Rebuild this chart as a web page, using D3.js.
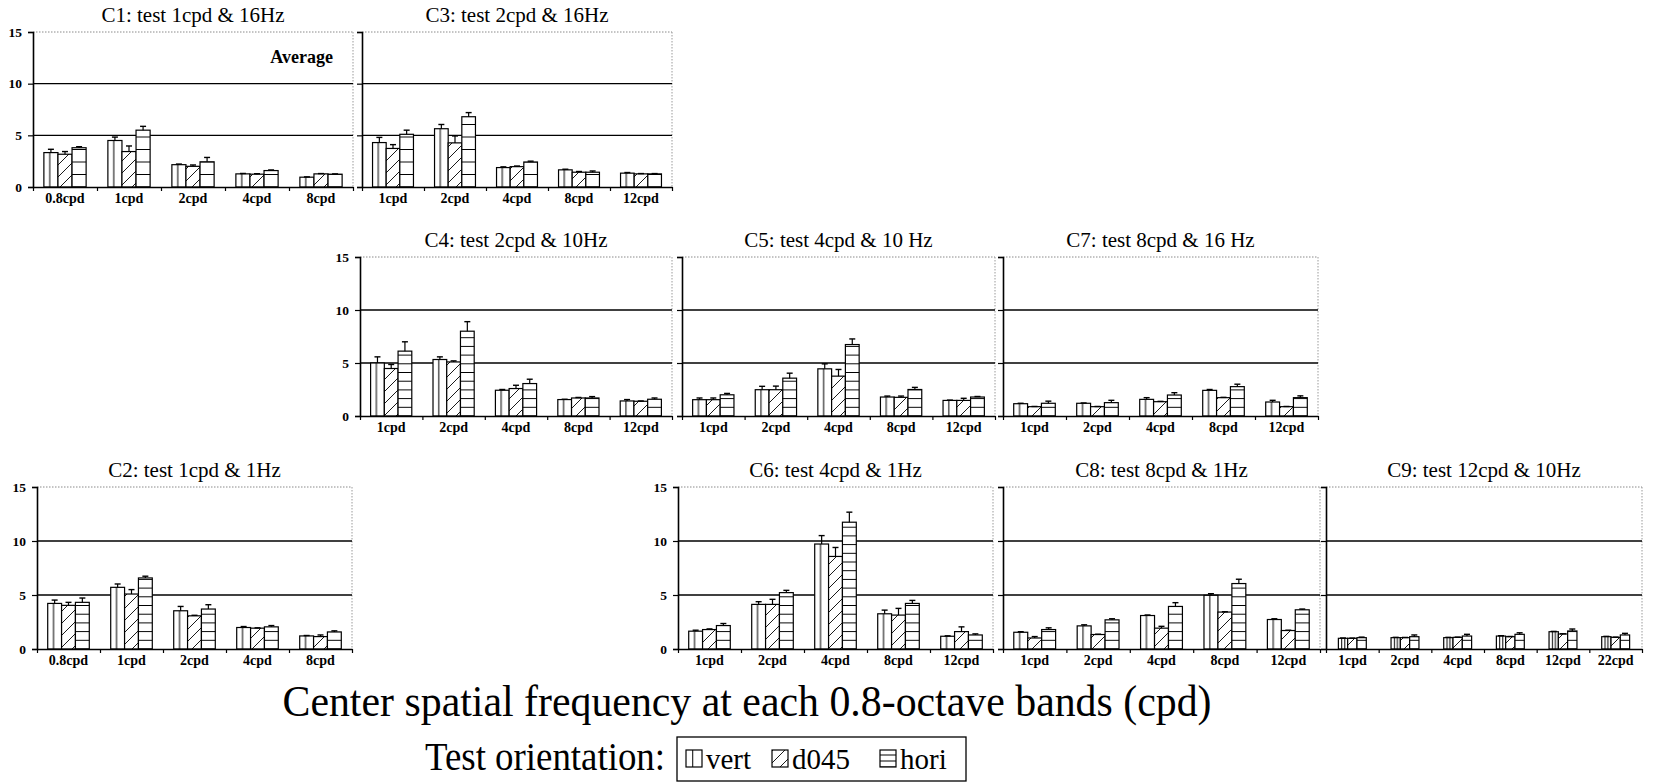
<!DOCTYPE html>
<html><head><meta charset="utf-8">
<script src="https://cdn.jsdelivr.net/npm/d3@7"></script>
<style>
body{margin:0;background:#fff;}
svg{display:block;background:#fff;}
text{font-family:"Liberation Serif","Times New Roman",serif;fill:#000;}
</style></head><body>
<svg id="chart" width="1655" height="784"></svg>
<script>
// ---------------- data ----------------
const seriesNames = ["vert", "d045", "hori"];
const yTicks = [0, 5, 10, 15];
const catsLow = ["0.8cpd", "1cpd", "2cpd", "4cpd", "8cpd"];
const catsMid = ["1cpd", "2cpd", "4cpd", "8cpd", "12cpd"];
const catsHigh = ["1cpd", "2cpd", "4cpd", "8cpd", "12cpd", "22cpd"];

// means per series: [vert, d045, hori]; errs = upward error bar length
const c1Means = [[3.33, 4.5, 2.16, 1.27, 0.95], [3.17, 3.43, 2.0, 1.24, 1.27], [3.8, 5.5, 2.44, 1.59, 1.24]];
const c1Errs  = [[0.32, 0.33, 0.06, 0.04, 0.03], [0.26, 0.54, 0.13, 0.05, 0.03], [0.1, 0.37, 0.42, 0.06, 0.03]];
const c3Means = [[4.3, 5.64, 1.88, 1.66, 1.34], [3.73, 4.27, 1.97, 1.43, 1.27], [5.1, 6.8, 2.42, 1.43, 1.27]];
const c3Errs  = [[0.5, 0.41, 0.07, 0.06, 0.06], [0.37, 0.67, 0.06, 0.07, 0.03], [0.4, 0.4, 0.08, 0.12, 0.03]];
const c4Means = [[5.0, 5.33, 2.43, 1.55, 1.42], [4.48, 5.1, 2.59, 1.7, 1.39], [6.12, 8.0, 3.06, 1.7, 1.58]];
const c4Errs  = [[0.58, 0.25, 0.07, 0.03, 0.13], [0.38, 0.1, 0.31, 0.05, 0.03], [0.88, 0.9, 0.41, 0.13, 0.12]];
const c5Means = [[1.54, 2.48, 4.45, 1.79, 1.47], [1.54, 2.48, 3.76, 1.76, 1.47], [2.0, 3.57, 6.74, 2.5, 1.79]];
const c5Errs  = [[0.16, 0.32, 0.47, 0.09, 0.03], [0.16, 0.34, 0.63, 0.12, 0.2], [0.13, 0.47, 0.53, 0.2, 0.05]];
const c7Means = [[1.16, 1.2, 1.57, 2.42, 1.32], [0.88, 0.88, 1.35, 1.73, 0.88], [1.2, 1.26, 1.98, 2.77, 1.73]];
const c7Errs  = [[0.04, 0.03, 0.16, 0.08, 0.16], [0.02, 0.02, 0.03, 0.03, 0.02], [0.2, 0.22, 0.22, 0.23, 0.17]];
const c2Means = [[4.22, 5.71, 3.54, 1.99, 1.21], [4.04, 5.09, 3.07, 1.93, 1.15], [4.32, 6.58, 3.7, 2.05, 1.58]];
const c2Errs  = [[0.31, 0.31, 0.4, 0.09, 0.04], [0.28, 0.41, 0.05, 0.03, 0.15], [0.4, 0.16, 0.4, 0.12, 0.1]];
const c6Means = [[1.65, 4.13, 9.72, 3.26, 1.18], [1.8, 4.13, 8.57, 3.14, 1.61], [2.17, 5.22, 11.74, 4.22, 1.3]];
const c6Errs  = [[0.09, 0.25, 0.78, 0.34, 0.04], [0.06, 0.47, 0.83, 0.62, 0.44], [0.19, 0.21, 0.93, 0.28, 0.1]];
const c8Means = [[1.55, 2.14, 3.1, 4.97, 2.73], [1.02, 1.34, 1.93, 3.42, 1.71], [1.8, 2.7, 3.94, 6.06, 3.63]];
const c8Errs  = [[0.05, 0.1, 0.05, 0.15, 0.07], [0.13, 0.03, 0.17, 0.03, 0.03], [0.16, 0.1, 0.35, 0.4, 0.07]];
const c9Means = [[0.99, 1.05, 1.05, 1.2, 1.6, 1.14], [0.99, 1.05, 1.08, 1.14, 1.39, 1.08], [1.05, 1.14, 1.2, 1.36, 1.67, 1.3]];
const c9Errs  = [[0.03, 0.03, 0.03, 0.03, 0.03, 0.03], [0.02, 0.02, 0.02, 0.02, 0.02, 0.02], [0.05, 0.16, 0.16, 0.14, 0.18, 0.15]];

const panelTitles = {
  C1: "C1: test 1cpd & 16Hz", C3: "C3: test 2cpd & 16Hz",
  C4: "C4: test 2cpd & 10Hz", C5: "C5: test 4cpd & 10 Hz", C7: "C7: test 8cpd & 16 Hz",
  C2: "C2: test 1cpd & 1Hz", C6: "C6: test 4cpd & 1Hz", C8: "C8: test 8cpd & 1Hz", C9: "C9: test 12cpd & 10Hz"
};
const xAxisTitle = "Center spatial frequency at each 0.8-octave bands (cpd)";
const legendTitle = "Test orientation:";
const averageNote = "Average";

// ---------------- layout ----------------
const panels = [
  {id: "C1", cats: catsLow,  means: c1Means, errs: c1Errs, x0: 33,   x1: 353,  y0: 32,  y1: 187, lab: true,  h: 12.5, pad: 0.34},
  {id: "C3", cats: catsMid,  means: c3Means, errs: c3Errs, x0: 362,  x1: 672,  y0: 32,  y1: 187, lab: false, h: 12.5, pad: 0.34},
  {id: "C4", cats: catsMid,  means: c4Means, errs: c4Errs, x0: 360,  x1: 672,  y0: 257, y1: 416, lab: true,  h: 8.7,  pad: 0.34},
  {id: "C5", cats: catsMid,  means: c5Means, errs: c5Errs, x0: 682,  x1: 995,  y0: 257, y1: 416, lab: false, h: 8.7,  pad: 0.34},
  {id: "C7", cats: catsMid,  means: c7Means, errs: c7Errs, x0: 1003, x1: 1318, y0: 257, y1: 416, lab: false, h: 8.7,  pad: 0.34},
  {id: "C2", cats: catsLow,  means: c2Means, errs: c2Errs, x0: 37,   x1: 352,  y0: 487, y1: 649, lab: true,  h: 8.7,  pad: 0.34},
  {id: "C6", cats: catsMid,  means: c6Means, errs: c6Errs, x0: 678,  x1: 993,  y0: 487, y1: 649, lab: true,  h: 8.7,  pad: 0.34},
  {id: "C8", cats: catsMid,  means: c8Means, errs: c8Errs, x0: 1003, x1: 1320, y0: 487, y1: 649, lab: false, h: 8.7,  pad: 0.34},
  {id: "C9", cats: catsHigh, means: c9Means, errs: c9Errs, x0: 1326, x1: 1642, y0: 487, y1: 649, lab: false, h: 8.7,  pad: 0.47}
];

const svg = d3.select("#chart");
const defs = svg.append("defs");

function makePatterns(id, bw, h, y1) {
  // vertical-line fill (relative to each bar)
  const vp = defs.append("pattern").attr("id", "vert-" + id)
    .attr("patternUnits", "objectBoundingBox").attr("patternContentUnits", "objectBoundingBox")
    .attr("width", 1).attr("height", 1);
  vp.append("rect").attr("width", 1).attr("height", 1).attr("fill", "#fff");
  const vl = bw < 11 ? [0.36, 0.68] : [0.42];
  vl.forEach(f => vp.append("line").attr("x1", f).attr("x2", f).attr("y1", 0).attr("y2", 1)
    .attr("stroke", "#000").attr("stroke-width", 1.0 / bw));
  // diagonal fill
  const dp = defs.append("pattern").attr("id", "diag-" + id).attr("patternUnits", "userSpaceOnUse")
    .attr("x", 0).attr("y", y1).attr("width", 12).attr("height", 12);
  dp.append("rect").attr("width", 12).attr("height", 12).attr("fill", "#fff");
  dp.append("path").attr("d", "M0,12L12,0M-3,3L3,-3M9,15L15,9")
    .attr("stroke", "#000").attr("stroke-width", 0.9).attr("fill", "none");
  // horizontal fill, anchored at the baseline
  const hp = defs.append("pattern").attr("id", "hori-" + id).attr("patternUnits", "userSpaceOnUse")
    .attr("x", 0).attr("y", y1 + h / 2).attr("width", 20).attr("height", h);
  hp.append("rect").attr("width", 20).attr("height", h).attr("fill", "#fff");
  hp.append("line").attr("x1", 0).attr("x2", 20).attr("y1", h / 2).attr("y2", h / 2)
    .attr("stroke", "#000").attr("stroke-width", 1.0);
}

panels.forEach(p => {
  const g = svg.append("g");
  const y = d3.scaleLinear().domain([0, 15]).range([p.y1, p.y0]);
  const x = d3.scaleBand().domain(p.cats).range([p.x0, p.x1])
    .paddingInner(p.pad).paddingOuter(p.pad / 2);
  const xs = d3.scaleBand().domain(seriesNames).range([0, x.bandwidth()]);
  const n = p.cats.length;
  const xb = d3.scaleLinear().domain([0, n]).range([p.x0, p.x1]);
  makePatterns(p.id, xs.bandwidth(), p.h, p.y1);

  // frame: dotted top and right
  g.append("line").attr("x1", p.x0).attr("x2", p.x1).attr("y1", y(15)).attr("y2", y(15))
    .attr("stroke", "#8a8a8a").attr("stroke-width", 1).attr("stroke-dasharray", "1.5,1.5");
  g.append("line").attr("x1", p.x1).attr("x2", p.x1).attr("y1", p.y0).attr("y2", p.y1)
    .attr("stroke", "#9a9a9a").attr("stroke-width", 1).attr("stroke-dasharray", "1.5,1.5");
  // gridlines
  g.selectAll(".grid").data([5, 10]).join("line")
    .attr("x1", p.x0).attr("x2", p.x1).attr("y1", d => y(d)).attr("y2", d => y(d))
    .attr("stroke", "#000").attr("stroke-width", 1.4);

  // bars
  const fills = ["vert-", "diag-", "hori-"];
  seriesNames.forEach((s, si) => {
    const bars = p.cats.map((c, ci) => ({c, v: p.means[si][ci], e: p.errs[si][ci]}));
    const bg = g.append("g");
    bg.selectAll("rect").data(bars).join("rect")
      .attr("x", d => x(d.c) + xs(s))
      .attr("y", d => y(d.v))
      .attr("width", xs.bandwidth())
      .attr("height", d => y(0) - y(d.v))
      .attr("fill", "url(#" + fills[si] + p.id + ")")
      .attr("stroke", "#000").attr("stroke-width", 1.2);
    // error bars (upper only)
    bg.selectAll("line.eb").data(bars).join("line").attr("class", "eb")
      .attr("x1", d => x(d.c) + xs(s) + xs.bandwidth() / 2)
      .attr("x2", d => x(d.c) + xs(s) + xs.bandwidth() / 2)
      .attr("y1", d => y(d.v)).attr("y2", d => y(d.v + d.e))
      .attr("stroke", "#000").attr("stroke-width", 1.2);
    bg.selectAll("line.cap").data(bars).join("line").attr("class", "cap")
      .attr("x1", d => x(d.c) + xs(s) + xs.bandwidth() / 2 - 3)
      .attr("x2", d => x(d.c) + xs(s) + xs.bandwidth() / 2 + 3)
      .attr("y1", d => y(d.v + d.e)).attr("y2", d => y(d.v + d.e))
      .attr("stroke", "#000").attr("stroke-width", 1.4);
  });

  // y axis
  const ya = g.append("g").attr("transform", `translate(${p.x0},0)`)
    .call(d3.axisLeft(y).tickValues(yTicks).tickSize(5).tickPadding(6)
      .tickFormat(p.lab ? d3.format("d") : () => ""));
  ya.select(".domain").attr("stroke", "#000").attr("stroke-width", 1.6);
  ya.selectAll(".tick line").attr("stroke", "#000").attr("stroke-width", 1.2);
  ya.selectAll(".tick text").style("font-family", "'Liberation Serif',serif")
    .style("font-size", "13.5px").style("font-weight", "bold").attr("fill", "#000");

  // x axis: boundary ticks
  const xa = g.append("g").attr("transform", `translate(0,${p.y1})`)
    .call(d3.axisBottom(xb).tickValues(d3.range(n + 1)).tickSize(4).tickSizeOuter(0).tickFormat(() => ""));
  xa.select(".domain").attr("stroke", "#000").attr("stroke-width", 1.6);
  xa.selectAll(".tick line").attr("stroke", "#000").attr("stroke-width", 1.2);
  // category labels
  const xl = g.append("g").attr("transform", `translate(0,${p.y1})`)
    .call(d3.axisBottom(x).tickSize(0).tickPadding(6));
  xl.select(".domain").remove();
  xl.selectAll(".tick text").style("font-family", "'Liberation Serif',serif")
    .style("font-size", "14px").style("font-weight", "bold").attr("fill", "#000");

  // title
  g.append("text").attr("x", (p.x0 + p.x1) / 2).attr("y", p.y0 - 10)
    .attr("text-anchor", "middle").style("font-size", "21px").text(panelTitles[p.id]);

  if (p.id === "C1") {
    g.append("text").attr("x", p.x1 - 20).attr("y", y(12.0))
      .attr("text-anchor", "end").style("font-size", "18px").style("font-weight", "bold")
      .text(averageNote);
  }
});

// main x title
svg.append("text").attr("x", 747).attr("y", 716).attr("text-anchor", "middle")
  .style("font-size", "44px").attr("textLength", 929).attr("lengthAdjust", "spacingAndGlyphs")
  .text(xAxisTitle);

// legend
svg.append("text").attr("x", 425).attr("y", 770).style("font-size", "40px")
  .attr("textLength", 240).attr("lengthAdjust", "spacingAndGlyphs").text(legendTitle);
svg.append("rect").attr("x", 677).attr("y", 737).attr("width", 289).attr("height", 44)
  .attr("fill", "none").attr("stroke", "#000").attr("stroke-width", 1.3);
makePatterns("leg", 16, 6, 767);
const legX = [686, 772, 880];
seriesNames.forEach((s, i) => {
  svg.append("rect").attr("x", legX[i]).attr("y", 750).attr("width", 16).attr("height", 17)
    .attr("fill", "url(#" + ["vert-", "diag-", "hori-"][i] + "leg)")
    .attr("stroke", "#000").attr("stroke-width", 1.2);
  svg.append("text").attr("x", legX[i] + 20).attr("y", 769).style("font-size", "29px").text(s);
});
</script>
</body></html>
